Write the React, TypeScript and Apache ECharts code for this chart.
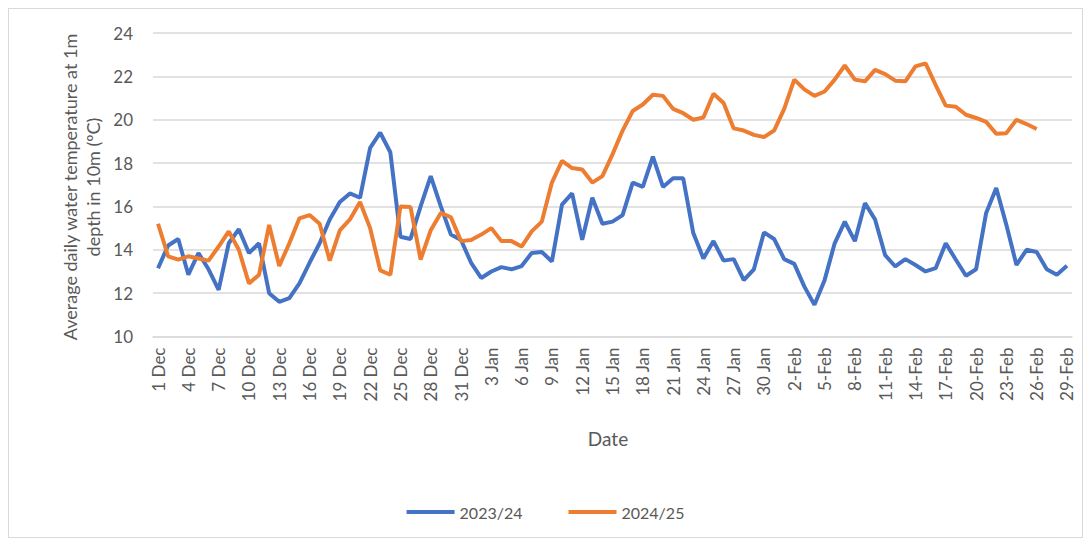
import React, { useEffect, useRef } from "react";
import * as echarts from "echarts";

const decDays = 31;
const janDays = 31;
const febDays = 29;

const categories: string[] = [];
for (let d = 1; d <= decDays; d++) categories.push(`${d} Dec`);
for (let d = 1; d <= janDays; d++) categories.push(`${d} Jan`);
for (let d = 1; d <= febDays; d++) categories.push(`${d}-Feb`);

const series2023: number[] = [
  13.15, 14.2, 14.5, 12.85, 13.85, 13.1, 12.15, 14.3, 14.95, 13.85,
  14.3, 12.0, 11.6, 11.77, 12.45, 13.4, 14.3, 15.4, 16.2, 16.6,
  16.4, 18.7, 19.4, 18.5, 14.6, 14.5, 16.0, 17.4, 16.0, 14.7,
  14.45, 13.4, 12.7, 13.0, 13.2, 13.1, 13.25, 13.85, 13.9, 13.46,
  16.08, 16.6, 14.46, 16.4, 15.2, 15.3, 15.6, 17.1, 16.9, 18.3,
  16.9, 17.3, 17.3, 14.77, 13.6, 14.4, 13.5, 13.57, 12.6, 13.1,
  14.8, 14.5, 13.57, 13.35, 12.3, 11.46, 12.6, 14.3, 15.3, 14.4,
  16.15, 15.4, 13.75, 13.23, 13.57, 13.3, 13.0, 13.15, 14.3, 13.54,
  12.8, 13.1, 15.7, 16.85, 15.15, 13.3, 14.0, 13.9, 13.1, 12.85,
  13.26,
];

const series2024: number[] = [
  15.2, 13.7, 13.55, 13.7, 13.6, 13.5, 14.15, 14.85, 14.0, 12.45,
  12.85, 15.15, 13.25, 14.3, 15.45, 15.6, 15.2, 13.5, 14.9, 15.4,
  16.2, 15.0, 13.05, 12.85, 16.0, 15.97, 13.55, 14.9, 15.7, 15.5,
  14.4, 14.45, 14.7, 15.0, 14.4, 14.4, 14.15, 14.85, 15.3, 17.1,
  18.1, 17.77, 17.7, 17.1, 17.4, 18.4, 19.5, 20.4, 20.7, 21.15,
  21.1, 20.5, 20.3, 20.0, 20.1, 21.2, 20.77, 19.6, 19.5, 19.3,
  19.2, 19.5, 20.5, 21.85, 21.4, 21.1, 21.3, 21.85, 22.5, 21.85,
  21.77, 22.3, 22.1, 21.8, 21.77, 22.46, 22.6, 21.6, 20.65, 20.6,
  20.23, 20.08, 19.9, 19.35, 19.38, 20.0, 19.8, 19.57,
];

const seriesNames = ["2023/24", "2024/25"];
const yTitle = "Average daily water temperature at 1m\ndepth in 10m (\u00BAC)";
const xTitle = "Date";

const FONT = "Lato";
const TEXT = "#595959";
const GRID = "#d9d9d9";

export default function App() {
  const ref = useRef<HTMLDivElement>(null);
  useEffect(() => {
    if (!ref.current) return;
    const chart = echarts.init(ref.current, undefined, { renderer: "svg" });
    chart.setOption({
      animation: false,
      textStyle: { fontFamily: FONT },
      grid: { left: 144, right: 10, top: 24, height: 303.5 },
      legend: {
        data: seriesNames,
        top: 490,
        left: "center",
        itemGap: 46,
        itemWidth: 48,
        itemHeight: 4,
        icon: "rect",
        textStyle: { color: TEXT, fontSize: 16, fontFamily: FONT },
      },
      xAxis: {
        type: "category",
        data: categories,
        boundaryGap: true,
        axisLine: { show: true, lineStyle: { color: GRID, width: 1.5 } },
        axisTick: { show: false },
        axisLabel: {
          interval: 2,
          rotate: 90,
          margin: 11,
          color: TEXT,
          fontSize: 17,
          fontFamily: FONT,
        },
      },
      yAxis: {
        type: "value",
        min: 10,
        max: 24,
        interval: 2,
        axisLine: { show: false },
        axisTick: { show: false },
        axisLabel: { margin: 20, color: TEXT, fontSize: 17, fontFamily: FONT },
        splitLine: { lineStyle: { color: GRID, width: 1.5 } },
      },
      graphic: [
        {
          type: "text",
          x: 72,
          y: 178,
          rotation: Math.PI / 2,
          style: {
            text: yTitle,
            fill: TEXT,
            fontSize: 18,
            fontFamily: FONT,
            align: "center",
            verticalAlign: "middle",
            lineHeight: 23,
          },
        },
        {
          type: "text",
          x: 599,
          y: 429,
          style: {
            text: xTitle,
            fill: TEXT,
            fontSize: 19,
            fontFamily: FONT,
            align: "center",
            verticalAlign: "middle",
          },
        },
      ],
      series: [
        {
          name: seriesNames[0],
          type: "line",
          data: series2023,
          showSymbol: false,
          symbol: "none",
          lineStyle: { color: "#4472C4", width: 4 },
          itemStyle: { color: "#4472C4" },
        },
        {
          name: seriesNames[1],
          type: "line",
          data: series2024,
          showSymbol: false,
          symbol: "none",
          lineStyle: { color: "#ED7D31", width: 4 },
          itemStyle: { color: "#ED7D31" },
        },
      ],
    });
    return () => chart.dispose();
  }, []);
  return (
    <div
      style={{
        width: 1075,
        height: 530,
        border: "1px solid #d9d9d9",
        boxSizing: "border-box",
      }}
    >
      <div ref={ref} style={{ width: 1073, height: 528 }} />
    </div>
  );
}
